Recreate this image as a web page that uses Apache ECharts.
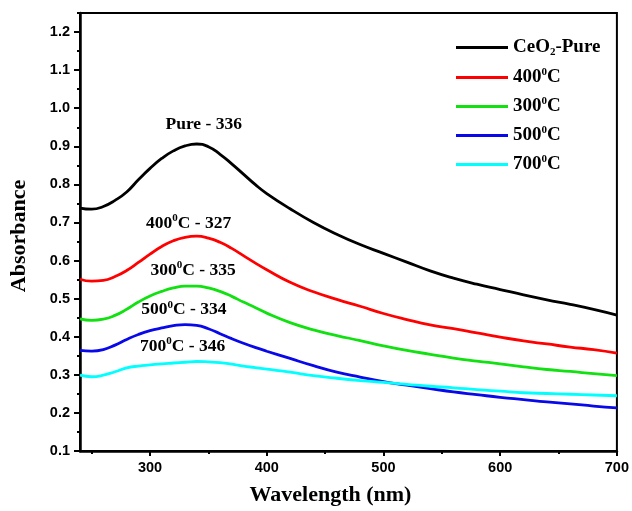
<!DOCTYPE html>
<html>
<head>
<meta charset="utf-8">
<script src="https://cdn.jsdelivr.net/npm/echarts@6/dist/echarts.min.js"></script>
<style>
  html, body { margin: 0; padding: 0; background: #fff; }
  #main { width: 632px; height: 511px; }
</style>
</head>
<body>
<div id="main"></div>
<script type="text/javascript">
  // wavelength grid (nm) shared by every curve
  var wavelength = [240, 250, 260, 270, 280, 290, 300, 310, 320, 330, 340, 350, 360, 370, 380, 390, 400,
    420, 440, 460, 480, 500, 520, 540, 560, 580, 600, 620, 640, 660, 680, 700];

  var pureAbs = [0.738, 0.735, 0.742, 0.758, 0.780, 0.812, 0.842, 0.868, 0.888, 0.901, 0.906, 0.899, 0.879, 0.854, 0.827, 0.800, 0.776,
    0.736, 0.700, 0.669, 0.642, 0.619, 0.596, 0.573, 0.554, 0.538, 0.524, 0.510, 0.497, 0.485, 0.472, 0.457];
  var abs400 = [0.551, 0.546, 0.548, 0.558, 0.574, 0.595, 0.617, 0.637, 0.652, 0.661, 0.664, 0.659, 0.648, 0.632, 0.613, 0.594, 0.576,
    0.543, 0.518, 0.498, 0.480, 0.461, 0.445, 0.431, 0.421, 0.410, 0.399, 0.389, 0.381, 0.373, 0.366, 0.357];
  var abs300 = [0.447, 0.443, 0.446, 0.456, 0.472, 0.491, 0.507, 0.519, 0.528, 0.533, 0.533, 0.528, 0.519, 0.506, 0.491, 0.477, 0.462,
    0.437, 0.418, 0.403, 0.390, 0.376, 0.364, 0.354, 0.344, 0.336, 0.329, 0.321, 0.314, 0.309, 0.303, 0.298];
  var abs500 = [0.364, 0.362, 0.366, 0.378, 0.393, 0.406, 0.416, 0.423, 0.429, 0.432, 0.430, 0.421, 0.408, 0.395, 0.383, 0.372, 0.362,
    0.343, 0.324, 0.307, 0.294, 0.282, 0.273, 0.264, 0.255, 0.248, 0.241, 0.235, 0.229, 0.224, 0.218, 0.213];
  var abs700 = [0.299, 0.295, 0.299, 0.308, 0.318, 0.323, 0.326, 0.329, 0.331, 0.333, 0.335, 0.334, 0.332, 0.328, 0.323, 0.319, 0.315,
    0.307, 0.298, 0.291, 0.285, 0.280, 0.275, 0.270, 0.266, 0.261, 0.257, 0.253, 0.251, 0.249, 0.247, 0.245];

  var seriesNames = ['CeO2-Pure', '400C', '300C', '500C', '700C'];
  var seriesValues = [pureAbs, abs400, abs300, abs500, abs700];
  var seriesColors = ['#000000', '#ff0000', '#11e011', '#0808e8', '#00ffff'];

  // peak annotations, placed in data coordinates
  var noteText = ['Pure - 336', '400{s|0}C - 327', '300{s|0}C - 335', '500{s|0}C - 334', '700{s|0}C - 346'];
  var noteX = [346, 333, 337, 329, 328];
  var noteY = [0.958, 0.697, 0.574, 0.471, 0.374];

  var xMajor = [300, 400, 500, 600, 700];
  var xMinor = [250, 350, 450, 550, 650];
  var yMajor = [0.1, 0.2, 0.3, 0.4, 0.5, 0.6, 0.7, 0.8, 0.9, 1.0, 1.1, 1.2];
  var yMinor = [0.15, 0.25, 0.35, 0.45, 0.55, 0.65, 0.75, 0.85, 0.95, 1.05, 1.15, 1.25];

  var legendLabels = {
    'CeO2-Pure': 'CeO{b|2}-Pure',
    '400C': '400{s|0}C',
    '300C': '300{s|0}C',
    '500C': '500{s|0}C',
    '700C': '700{s|0}C'
  };

  var serif = 'Liberation Serif';
  var sans = 'Liberation Sans';
  var richSup = {
    s: { fontFamily: serif, fontWeight: 'bold', fontSize: 11, padding: [0, 0, 10, 0] },
    b: { fontFamily: serif, fontWeight: 'bold', fontSize: 11, padding: [10, 0, 0, 0] }
  };

  function pairs(values) {
    return wavelength.map(function(w, i) { return [w, values[i]]; });
  }

  var series = seriesNames.map(function(name, i) {
    return {
      name: name,
      type: 'line',
      smooth: true,
      showSymbol: false,
      data: pairs(seriesValues[i]),
      lineStyle: { color: seriesColors[i], width: 2.8 },
      itemStyle: { color: seriesColors[i] }
    };
  });

  series.push({
    name: 'notes',
    type: 'scatter',
    symbolSize: 0,
    silent: true,
    itemStyle: { opacity: 1 },
    data: noteX.map(function(x, i) { return [x, noteY[i]]; }),
    label: {
      show: true,
      position: 'inside',
      color: '#000',
      opacity: 1,
      fontFamily: serif,
      fontWeight: 'bold',
      fontSize: 17.5,
      formatter: function(p) { return noteText[p.dataIndex]; },
      rich: richSup
    }
  });

  var option = {
    animation: false,
    backgroundColor: '#fff',
    grid: {
      left: 79, right: 13, top: 13, bottom: 59,
      show: true, borderColor: '#000', borderWidth: 2
    },
    legend: {
      data: seriesNames,
      orient: 'vertical',
      left: 451, top: 33,
      icon: 'rect',
      itemWidth: 52, itemHeight: 3,
      itemGap: 9,
      textStyle: {
        color: '#000', fontFamily: serif, fontWeight: 'bold', fontSize: 19,
        rich: richSup
      },
      formatter: function(name) { return legendLabels[name]; }
    },
    xAxis: [{
      type: 'value',
      min: 240, max: 700,
      name: 'Wavelength (nm)',
      nameLocation: 'middle',
      nameGap: 33,
      nameTextStyle: {
        color: '#000', fontFamily: serif, fontWeight: 'bold', fontSize: 22,
        padding: [0, 36, 0, 0]
      },
      axisLine: { lineStyle: { color: '#000', width: 2.5 } },
      axisTick: { customValues: xMajor, length: 5, lineStyle: { color: '#000', width: 2 } },
      axisLabel: {
        customValues: xMajor, margin: 9,
        color: '#000', fontFamily: sans, fontWeight: 'bold', fontSize: 14.5
      },
      splitLine: { show: false }
    }, {
      type: 'value',
      min: 240, max: 700,
      position: 'bottom',
      axisLine: { show: false },
      axisTick: { customValues: xMinor, length: 3, lineStyle: { color: '#000', width: 2 } },
      axisLabel: { show: false },
      splitLine: { show: false }
    }],
    yAxis: [{
      type: 'value',
      min: 0.1, max: 1.25,
      name: 'Absorbance',
      nameLocation: 'middle',
      nameGap: 50,
      nameTextStyle: {
        color: '#000', fontFamily: serif, fontWeight: 'bold', fontSize: 22,
        padding: [0, 8, 0, 0]
      },
      axisLine: { lineStyle: { color: '#000', width: 2.5 } },
      axisTick: { customValues: yMajor, length: 6, lineStyle: { color: '#000', width: 2 } },
      axisLabel: {
        customValues: yMajor, margin: 10,
        color: '#000', fontFamily: sans, fontWeight: 'bold', fontSize: 14.5,
        formatter: function(v) { return v.toFixed(1); }
      },
      splitLine: { show: false }
    }, {
      type: 'value',
      min: 0.1, max: 1.25,
      position: 'left',
      axisLine: { show: false },
      axisTick: { customValues: yMinor, length: 3, lineStyle: { color: '#000', width: 2 } },
      axisLabel: { show: false },
      splitLine: { show: false }
    }],
    series: series
  };

  var chart = echarts.init(document.getElementById('main'));
  chart.setOption(option);
</script>
</body>
</html>
